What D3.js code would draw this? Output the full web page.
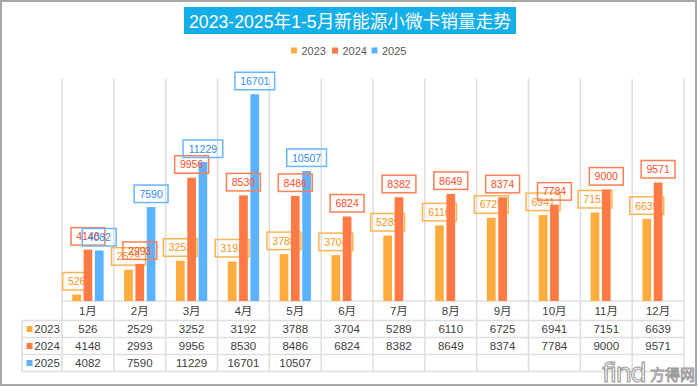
<!DOCTYPE html>
<html>
<head>
<meta charset="utf-8">
<script src="https://cdn.jsdelivr.net/npm/d3@7"></script>
<style>
  html, body { margin: 0; padding: 0; background: #fff; }
  svg { display: block; font-family: Arial, "Liberation Sans", "Noto Sans CJK SC", sans-serif; }
</style>
</head>
<body>
<svg id="chart" width="700" height="387"></svg>
<script>
const titleText = "2023-2025年1-5月新能源小微卡销量走势";
const months = ["1月","2月","3月","4月","5月","6月","7月","8月","9月","10月","11月","12月"];
const seriesNames = ["2023","2024","2025"];
const v2023 = [526, 2529, 3252, 3192, 3788, 3704, 5289, 6110, 6725, 6941, 7151, 6639];
const v2024 = [4148, 2993, 9956, 8530, 8486, 6824, 8382, 8649, 8374, 7784, 9000, 9571];
const v2025 = [4082, 7590, 11229, 16701, 10507, null, null, null, null, null, null, null];
const barColors = ["#FFAC3E", "#FF7A44", "#5CB2FF"];
const labelText = ["#F7941D", "#FF4D1F", "#2F8CF0"];
const labelBorder = ["#FFB44F", "#FF7E54", "#68B6FF"];

const seriesValues = [v2023, v2024, v2025];
const svg = d3.select("#chart");

// outer frame
svg.append("rect").attr("x", 1).attr("y", 1).attr("width", 695).attr("height", 384)
  .attr("fill", "#fff").attr("stroke", "#a6a6a6").attr("stroke-width", 2);

// title
svg.append("rect").attr("x", 184).attr("y", 7).attr("width", 332).attr("height", 27).attr("fill", "#14AEE8");
svg.append("text").attr("x", 189).attr("y", 27.5)
  .attr("fill", "#fff").attr("font-size", 18.5)
  .attr("textLength", 322).attr("lengthAdjust", "spacingAndGlyphs").text(titleText);

// legend
const legendX = [291, 332, 371.5];
seriesNames.forEach((s, i) => {
  svg.append("rect").attr("x", legendX[i]).attr("y", 47.5).attr("width", 6).attr("height", 6).attr("fill", barColors[i]);
  svg.append("text").attr("x", legendX[i] + 10.5).attr("y", 55.3).attr("font-size", 11).attr("fill", "#595959").text(s);
});

// scales
const x0 = 62, x1 = 684, base = 301;
const x = d3.scaleBand().domain(months).range([x0, x1]).padding(0);
const xs = d3.scaleBand().domain(seriesNames).range([10.3, 41.6]).paddingInner(0.23).paddingOuter(0);
const y = d3.scaleLinear().domain([0, 20000]).range([base, base - 20000 * 0.01238]);

// grid lines (vertical, column boundaries), extended through table
const gridColor = "#dedede";
const boundaries = months.map(m => x(m)).concat([x1]);
svg.append("g").selectAll("line").data(boundaries).join("line")
  .attr("x1", d => d).attr("x2", d => d).attr("y1", 79).attr("y2", 371.5)
  .attr("stroke", gridColor).attr("stroke-width", 1.5);

// table horizontal lines
const rowY = [301, 320.5, 337.5, 354.5, 371.5];
rowY.forEach((ry, i) => {
  svg.append("line").attr("x1", i === 0 ? x0 : 22).attr("x2", x1).attr("y1", ry).attr("y2", ry)
    .attr("stroke", gridColor).attr("stroke-width", 1.5);
});
svg.append("line").attr("x1", 22).attr("x2", 22).attr("y1", 320.5).attr("y2", 371.5)
  .attr("stroke", gridColor).attr("stroke-width", 1.5);

// bars and data labels
const plotG = svg.append("g");
function seriesData(si) {
  return months.map((m, i) => ({ m, v: seriesValues[si][i] })).filter(d => d.v != null);
}
function drawBars(si) {
  plotG.append("g").selectAll("rect").data(seriesData(si)).join("rect")
    .attr("x", d => x(d.m) + xs(seriesNames[si]))
    .attr("width", xs.bandwidth())
    .attr("y", d => y(d.v))
    .attr("height", d => base - y(d.v))
    .attr("fill", barColors[si]);
}
function drawLabels(si) {
  const lg = plotG.append("g");
  seriesData(si).forEach(d => {
    const cx = x(d.m) + xs(seriesNames[si]) + xs.bandwidth() / 2;
    const txt = String(d.v);
    const w = txt.length * 5.85 + 10.5;
    const h = 17.5;
    const by = y(d.v) - 4.5 - h;
    lg.append("rect").attr("x", cx - w / 2).attr("y", by).attr("width", w).attr("height", h)
      .attr("fill", "none").attr("stroke", labelBorder[si]).attr("stroke-width", 1.5);
    lg.append("text").attr("x", cx).attr("y", by + h / 2 + 4).attr("text-anchor", "middle")
      .attr("font-size", 10.5).attr("fill", labelText[si]).text(txt);
  });
}
drawBars(0);
drawLabels(0);
drawBars(1);
drawBars(2);
drawLabels(1);
drawLabels(2);

// table header (months)
svg.append("g").selectAll("text").data(months).join("text")
  .attr("x", d => x(d) + x.bandwidth() / 2).attr("y", 315)
  .attr("text-anchor", "middle").attr("font-size", 11.5).attr("fill", "#404040").text(d => d);

// table rows
seriesValues.forEach((vals, si) => {
  const cy = (rowY[si + 1] + rowY[si + 2]) / 2;
  svg.append("rect").attr("x", 26.5).attr("y", cy - 3).attr("width", 6).attr("height", 6).attr("fill", barColors[si]);
  svg.append("text").attr("x", 34.3).attr("y", cy + 4.2).attr("font-size", 11.5).attr("fill", "#404040").text(seriesNames[si]);
  svg.append("g").selectAll("text").data(seriesData(si)).join("text")
    .attr("x", d => x(d.m) + x.bandwidth() / 2).attr("y", cy + 4.2)
    .attr("text-anchor", "middle").attr("font-size", 11.5).attr("fill", "#404040").text(d => d.v);
});

// watermark
const wm = svg.append("g").attr("opacity", 0.85);
wm.append("text").attr("x", 602).attr("y", 382).attr("font-size", 26).attr("font-family", "DejaVu Sans, sans-serif")
  .attr("fill", "#fff").attr("stroke", "#8a8a8a").attr("stroke-width", 1.1).attr("letter-spacing", -1.5).text("find");
wm.append("text").attr("x", 650).attr("y", 380).attr("font-size", 15)
  .attr("fill", "#fff").attr("stroke", "#8a8a8a").attr("stroke-width", 0.9).text("方得网");
</script>
</body>
</html>
